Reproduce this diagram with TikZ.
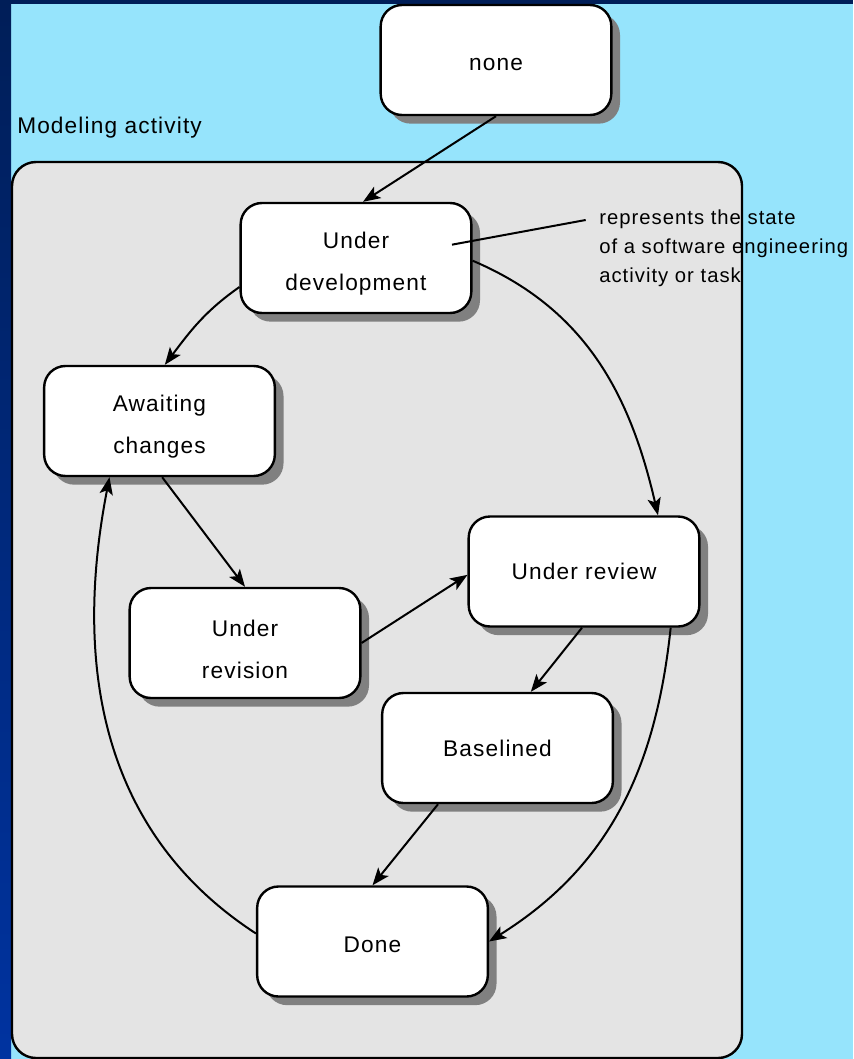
\documentclass[tikz,border=0pt]{standalone}
\usepackage{fontspec}
\setmainfont[LetterSpace=5]{Liberation Sans}
\usetikzlibrary{shadows,arrows.meta}
\definecolor{bgblue}{HTML}{96E4FC}
\definecolor{navytop}{HTML}{001E58}
\definecolor{navybot}{HTML}{0033A0}
\definecolor{boxgray}{HTML}{E4E4E4}
\definecolor{shadowgray}{HTML}{808080}
\newcommand\twostrut{\rule{0pt}{21.5pt}}
\newcommand\onestrut{\rule{0pt}{16pt}}
\tikzset{
  state/.style={draw, fill=white, line width=1.8pt, rounded corners=16pt,
    minimum width=173pt, minimum height=82.5pt, align=center,
    font=\fontsize{17}{31.5}\selectfont,
    drop shadow={shadow xshift=6.5pt, shadow yshift=-6.5pt, fill=shadowgray, opacity=1}},
  arr/.style={line width=1.5pt, -{Stealth[length=13pt, width=10pt, inset=3pt]}},
  label/.style={font=\fontsize{17}{20}\selectfont, inner sep=0pt},
  notetext/.style={font=\fontsize{15.2}{21.5}\selectfont, inner sep=0pt, align=left}
}
\begin{document}
\begin{tikzpicture}[x=0.75pt, y=0.75pt]
  \useasboundingbox (0,0) rectangle (853,-1059);
  % background
  \fill[bgblue] (0,0) rectangle (853,-1059);
  \shade[top color=navytop, bottom color=navybot] (0,0) rectangle (11,-1059);
  \fill[navytop] (0,0) rectangle (853,-4);
  % activity container
  \draw[line width=1.8pt, fill=boxgray, rounded corners=18pt] (12,-162) rectangle (742,-1058);
  \node[label, anchor=base west] (lbl) at (17,-134) {Modeling activity};
  % states
  \node[state] (none) at (496,-60) {\onestrut none};
  \node[state] (ud) at (356,-258) {\twostrut Under\\development};
  \node[state] (ac) at (159.5,-421) {\twostrut Awaiting\\changes};
  \node[state] (ur) at (584,-571.5) {Under review};
  \node[state] (urev) at (245,-643) {\twostrut Under\\revision};
  \node[state] (bl) at (497.5,-748) {Baselined};
  \node[state] (done) at (372.5,-941.5) {\onestrut Done};
  % note
  \node[notetext, anchor=north west] (note) at (599,-210) {represents the state\\of a software engineering\\activity or task};
  \draw[line width=1.5pt] ([xshift=72pt,yshift=10pt]ud.center) -- ([xshift=-10pt,yshift=-7.5pt]note.north west);
  % transitions
  \draw[arr] (none.south) -- ([xshift=5.25pt]ud.north);
  \draw[arr] ([yshift=-21.75pt]ud.west) to[out=215, in=53] ([xshift=4pt]ac.north);
  \draw[arr] ([yshift=-2pt]ud.east) to[out=-23, in=103] ([xshift=55.5pt]ur.north);
  \draw[arr] ([xshift=2pt]ac.south) -- (urev.north);
  \draw[arr] (urev.east) -- ([yshift=-2.5pt]ur.west);
  \draw[arr] ([xshift=-1.5pt]ur.south) -- ([xshift=25pt]bl.north);
  \draw[arr] ([xshift=-44.6pt]bl.south) -- (done.north);
  \draw[arr] ([xshift=65pt]ur.south) to[out=264, in=32] (done.east);
  \draw[arr] ([yshift=6pt]done.west) to[out=147, in=259] ([xshift=-37.5pt]ac.south);
\end{tikzpicture}
\end{document}
